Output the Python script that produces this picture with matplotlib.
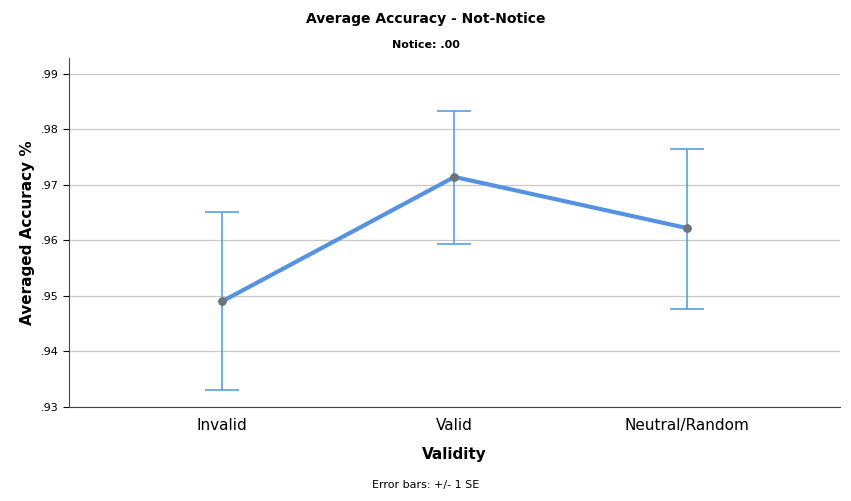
import matplotlib
matplotlib.use("Agg")
import matplotlib.pyplot as plt
from matplotlib.ticker import FuncFormatter

categories = ["Invalid", "Valid", "Neutral/Random"]
means = [0.949, 0.9714, 0.9622]
upper = [0.9651, 0.9832, 0.9765]
lower = [0.9331, 0.9594, 0.9477]

fig = plt.figure(figsize=(8.51, 5.01), dpi=100)
ax = fig.add_axes([0.081, 0.188, 0.906, 0.696])
x = list(range(len(categories)))
yerr = [[m - l for m, l in zip(means, lower)], [u - m for m, u in zip(means, upper)]]
ax.errorbar(x, means, yerr=yerr, fmt="none", ecolor="#5b9fe3", elinewidth=1.2, capsize=12, capthick=1.2, zorder=2)
ax.plot(x, means, color="#5593e0", lw=3, zorder=3)
ax.scatter(x, means, color="#6e7378", s=28, zorder=4)

ax.set_xlim(-0.66, 2.66)
ax.set_ylim(0.93, 0.9928)
ax.set_yticks([0.93, 0.94, 0.95, 0.96, 0.97, 0.98, 0.99])
ax.yaxis.set_major_formatter(FuncFormatter(lambda v, p: ("%.2f" % v)[1:]))
ax.set_xticks(x)
ax.set_xticklabels(categories, fontsize=11)
ax.tick_params(axis="y", labelsize=8, length=4)
ax.tick_params(axis="x", length=0, pad=8)
ax.grid(axis="y", color="#c8c8c8", lw=0.9)
ax.set_axisbelow(True)
for s in ["top", "right"]:
    ax.spines[s].set_visible(False)
ax.spines["left"].set_color("#444444")
ax.spines["bottom"].set_color("#444444")
ax.set_xlabel("Validity", fontsize=11, fontweight="bold", labelpad=10)
ax.set_ylabel("Averaged Accuracy %", fontsize=11, fontweight="bold")
fig.text(0.5, 0.955, "Average Accuracy - Not-Notice", ha="center", fontsize=10, fontweight="bold")
fig.text(0.5, 0.905, "Notice: .00", ha="center", fontsize=8, fontweight="bold")
fig.text(0.5, 0.025, "Error bars: +/- 1 SE", ha="center", fontsize=8)
fig.savefig("out.png", dpi=100)
